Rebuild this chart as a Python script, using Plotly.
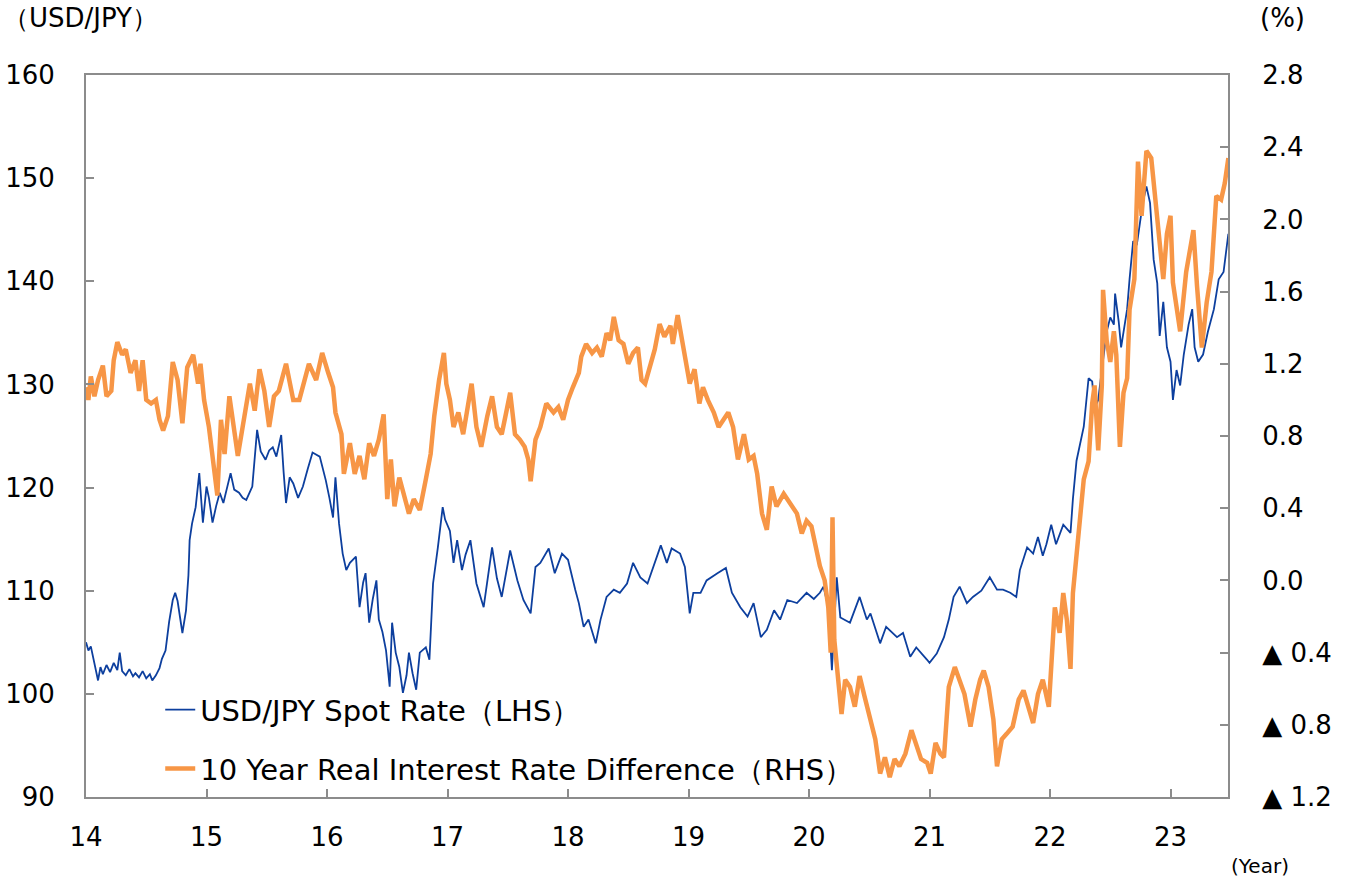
import plotly.graph_objects as go

# ---- USD/JPY spot rate (LHS), x in years (14 = 2014) ----
usd_t = [
    14.00, 14.02, 14.04, 14.06, 14.08, 14.10, 14.12, 14.14, 14.17, 14.20,
    14.23, 14.26, 14.28, 14.30, 14.33, 14.36, 14.39, 14.41, 14.44, 14.47,
    14.50, 14.53, 14.55, 14.58, 14.61, 14.63, 14.66, 14.69, 14.72, 14.74,
    14.76, 14.78, 14.80, 14.83, 14.85, 14.86, 14.88, 14.91, 14.94, 14.97,
    15.00, 15.02, 15.05, 15.08, 15.11, 15.14, 15.17, 15.20, 15.23, 15.27,
    15.30, 15.33, 15.38, 15.40, 15.42, 15.45, 15.49, 15.52, 15.55, 15.58,
    15.62, 15.64, 15.66, 15.69, 15.72, 15.76, 15.80, 15.84, 15.88, 15.94,
    15.99,
    16.02, 16.05, 16.07, 16.10, 16.13, 16.16, 16.19, 16.24, 16.27, 16.30,
    16.32, 16.35, 16.38, 16.41, 16.43, 16.46, 16.49, 16.52, 16.54, 16.57,
    16.60, 16.63, 16.66, 16.68, 16.71, 16.74, 16.77, 16.82, 16.85, 16.88,
    16.92, 16.96, 16.98,
    17.02, 17.05, 17.08, 17.12, 17.15, 17.19, 17.24, 17.30, 17.37, 17.41,
    17.45, 17.52, 17.58, 17.63, 17.69, 17.73, 17.77, 17.84, 17.89, 17.95,
    18.00, 18.06, 18.09, 18.13, 18.17, 18.23, 18.27, 18.32, 18.38, 18.43,
    18.49, 18.54, 18.60, 18.66, 18.71, 18.77, 18.82, 18.86, 18.93, 18.97,
    19.01, 19.04, 19.10, 19.15, 19.24, 19.31, 19.36, 19.43, 19.49, 19.54,
    19.60, 19.65, 19.71, 19.76, 19.82, 19.90, 19.98,
    20.04, 20.09, 20.12, 20.16, 20.19, 20.23, 20.26, 20.34, 20.42, 20.48,
    20.51, 20.59, 20.64, 20.73, 20.78, 20.84, 20.89, 20.98,
    21.00, 21.06, 21.12, 21.16, 21.20, 21.25, 21.31, 21.36, 21.43, 21.50,
    21.56, 21.61, 21.67, 21.72, 21.75, 21.81, 21.86, 21.90, 21.94, 21.97,
    22.01, 22.05, 22.11, 22.17, 22.19, 22.22, 22.25, 22.28, 22.32, 22.35,
    22.37, 22.40, 22.43, 22.47, 22.50, 22.53, 22.54, 22.57, 22.59, 22.64,
    22.66, 22.69, 22.72, 22.75, 22.77, 22.80, 22.83, 22.86, 22.89, 22.91,
    22.94, 22.97,
    23.00, 23.02, 23.05, 23.08, 23.11, 23.15, 23.18, 23.20, 23.23, 23.27,
    23.31, 23.36, 23.40, 23.44, 23.48,
]
usd_v = [
    105.0, 104.2, 104.6, 103.5, 102.2, 101.3, 102.6, 101.9, 102.8, 102.1,
    103.0, 102.3, 104.0, 102.2, 101.8, 102.4, 101.7, 102.0, 101.6, 102.2,
    101.5, 101.9, 101.3, 101.8, 102.5, 103.4, 104.2, 107.0, 109.1, 109.8,
    109.0, 107.5, 105.9, 108.1, 111.5, 114.9, 116.5, 118.1, 121.4, 116.6,
    120.1, 119.0, 116.6, 118.2, 119.5, 118.5, 120.0, 121.4, 119.8, 119.5,
    119.0, 118.8, 120.1, 122.5, 125.6, 123.5, 122.7, 123.6, 123.9, 123.0,
    125.1, 121.5, 118.5, 121.0, 120.4, 119.0, 120.1, 121.8, 123.4, 123.0,
    120.7,
    119.0, 117.1, 121.0, 116.5, 113.6, 112.0, 112.7, 113.3, 108.4, 110.8,
    111.7, 106.9, 109.2, 111.0, 107.2, 106.0, 104.2, 100.7, 106.9, 104.0,
    102.6, 100.1, 101.8, 104.0, 102.0, 100.4, 104.0, 104.5, 103.3, 110.7,
    114.2, 118.1, 116.9,
    115.8, 112.7, 114.9, 112.0, 113.5, 114.9, 110.7, 108.4, 114.2, 111.2,
    109.4, 113.9, 111.0, 109.1, 107.8, 112.3, 112.7, 114.1, 111.7, 113.6,
    113.0, 110.1, 108.8, 106.5, 107.2, 104.9, 107.2, 109.4, 110.1, 109.8,
    110.7, 112.7, 111.3, 110.7, 112.3, 114.4, 112.7, 114.1, 113.6, 112.3,
    107.8, 109.8, 109.8, 111.0, 111.7, 112.2, 109.8, 108.4, 107.5, 108.8,
    105.5, 106.2, 108.1, 107.2, 109.1, 108.8, 109.8,
    109.2, 109.8, 110.4, 108.4, 102.3, 111.3, 107.4, 106.9, 109.4, 107.2,
    107.8, 104.9, 106.5, 105.5, 105.9, 103.6, 104.5, 103.3,
    103.0, 103.9, 105.5, 107.2, 109.4, 110.4, 108.8, 109.4, 110.0, 111.3,
    110.1, 110.1, 109.8, 109.4, 112.0, 114.2, 113.6, 115.2, 113.4, 114.5,
    116.4, 114.5, 116.4, 115.6, 118.9, 122.6, 124.1, 125.9, 130.6, 130.3,
    127.7, 128.5, 131.4, 135.1, 136.5, 135.8, 138.8, 136.1, 133.6, 137.3,
    140.2, 143.9, 143.5, 146.1, 147.6, 149.2, 147.6, 142.1, 139.8, 134.7,
    138.0, 133.6,
    132.2, 128.5, 131.4, 129.9, 132.9, 135.8, 137.3, 133.6, 132.2, 132.9,
    135.1, 137.3, 140.2, 140.9, 144.6,
]

# ---- 10Y real interest rate difference (RHS, %) ----
rate_t = [
    14.00, 14.02, 14.04, 14.07, 14.10, 14.14, 14.17, 14.21, 14.23, 14.26,
    14.30, 14.33, 14.37, 14.41, 14.44, 14.47, 14.50, 14.54, 14.58, 14.61,
    14.64, 14.68, 14.72, 14.76, 14.80, 14.84, 14.89, 14.93, 14.95, 14.98,
    15.02, 15.05, 15.09, 15.12, 15.15, 15.19, 15.22, 15.26, 15.30, 15.36,
    15.40, 15.44, 15.48, 15.52, 15.56, 15.60, 15.66, 15.72, 15.77, 15.81,
    15.85, 15.91, 15.96,
    16.01, 16.05, 16.07, 16.12, 16.14, 16.19, 16.23, 16.27, 16.31, 16.35,
    16.39, 16.43, 16.47, 16.50, 16.53, 16.56, 16.60, 16.64, 16.68, 16.72,
    16.77, 16.82, 16.86, 16.89, 16.93, 16.97, 16.99,
    17.02, 17.05, 17.09, 17.13, 17.16, 17.20, 17.24, 17.28, 17.33, 17.37,
    17.41, 17.45, 17.49, 17.52, 17.56, 17.60, 17.64, 17.67, 17.69, 17.73,
    17.77, 17.82, 17.88, 17.92, 17.96,
    18.00, 18.04, 18.09, 18.11, 18.15, 18.20, 18.24, 18.28, 18.32, 18.35,
    18.38, 18.42, 18.46, 18.50, 18.54, 18.58, 18.61, 18.64, 18.68, 18.72,
    18.76, 18.80, 18.85, 18.87, 18.91, 18.94, 18.98,
    19.01, 19.05, 19.09, 19.12, 19.16, 19.21, 19.25, 19.29, 19.33, 19.37,
    19.41, 19.46, 19.50, 19.54, 19.57, 19.61, 19.65, 19.69, 19.73, 19.79,
    19.84, 19.90, 19.94, 19.98,
    20.02, 20.05, 20.09, 20.13, 20.16, 20.18, 20.195, 20.21, 20.24, 20.27,
    20.30, 20.34, 20.38, 20.42, 20.46, 20.51, 20.55, 20.59, 20.63, 20.67,
    20.71, 20.75, 20.80, 20.85, 20.89, 20.93, 20.98,
    21.01, 21.05, 21.09, 21.12, 21.16, 21.21, 21.25, 21.29, 21.34, 21.38,
    21.42, 21.45, 21.49, 21.53, 21.56, 21.60, 21.64, 21.69, 21.74, 21.78,
    21.82, 21.86, 21.90, 21.94, 21.99,
    22.01, 22.04, 22.08, 22.11, 22.14, 22.17, 22.19, 22.22, 22.25, 22.28,
    22.32, 22.35, 22.37, 22.40, 22.43, 22.44, 22.47, 22.50, 22.53, 22.55,
    22.58, 22.61, 22.64, 22.66, 22.70, 22.73, 22.76, 22.80, 22.84, 22.87,
    22.90, 22.94, 22.97,
    23.00, 23.02, 23.05, 23.08, 23.13, 23.19, 23.22, 23.26, 23.30, 23.34,
    23.38, 23.42, 23.45, 23.48,
]
rate_v = [
    1.07, 1.00, 1.13, 1.02, 1.11, 1.19, 1.02, 1.05, 1.22, 1.32,
    1.25, 1.28, 1.15, 1.22, 1.05, 1.22, 1.00, 0.98, 1.00, 0.89,
    0.83, 0.91, 1.21, 1.11, 0.87, 1.18, 1.25, 1.09, 1.20, 1.00,
    0.85, 0.70, 0.47, 0.89, 0.70, 1.02, 0.87, 0.69, 0.85, 1.09,
    0.94, 1.17, 1.05, 0.85, 1.02, 1.05, 1.20, 1.00, 1.00, 1.09,
    1.20, 1.11, 1.26,
    1.15, 1.07, 0.93, 0.81, 0.59, 0.76, 0.59, 0.69, 0.56, 0.76,
    0.69, 0.78, 0.92, 0.45, 0.67, 0.41, 0.57, 0.48, 0.37, 0.45,
    0.39, 0.56, 0.70, 0.91, 1.11, 1.26, 1.09,
    1.00, 0.85, 0.93, 0.81, 0.93, 1.09, 0.85, 0.74, 0.91, 1.02,
    0.85, 0.81, 0.94, 1.04, 0.81, 0.78, 0.74, 0.67, 0.55, 0.78,
    0.85, 0.98, 0.93, 0.96, 0.89,
    1.00, 1.07, 1.15, 1.24, 1.31, 1.26, 1.29, 1.24, 1.37, 1.33,
    1.46, 1.33, 1.31, 1.20, 1.26, 1.29, 1.11, 1.09, 1.18, 1.28,
    1.42, 1.35, 1.41, 1.31, 1.47, 1.35, 1.22,
    1.09, 1.17, 0.98, 1.07, 1.00, 0.93, 0.85, 0.89, 0.93, 0.85,
    0.67, 0.81, 0.67, 0.69, 0.59, 0.37, 0.28, 0.52, 0.41, 0.48,
    0.43, 0.37, 0.26, 0.33,
    0.30, 0.21, 0.08, 0.00, -0.15, -0.40, 0.35, -0.33, -0.55, -0.74,
    -0.55, -0.59, -0.70, -0.53, -0.64, -0.77, -0.88, -1.07, -0.98, -1.09,
    -0.99, -1.03, -0.96, -0.83, -0.92, -0.99, -1.01,
    -1.07, -0.90, -0.96, -0.98, -0.59, -0.48, -0.55, -0.63, -0.81, -0.66,
    -0.55, -0.50, -0.59, -0.77, -1.03, -0.88, -0.85, -0.81, -0.66, -0.61,
    -0.70, -0.79, -0.63, -0.55, -0.70,
    -0.48, -0.15, -0.29, -0.07, -0.22, -0.49, -0.07, 0.13, 0.34, 0.56,
    0.66, 0.98, 1.08, 0.72, 1.08, 1.61, 1.33, 1.21, 1.38, 1.25,
    0.74, 1.04, 1.12, 1.50, 1.67, 2.32, 2.02, 2.38, 2.34, 2.13,
    1.96, 1.67, 1.92,
    2.02, 1.65, 1.50, 1.38, 1.71, 1.94, 1.63, 1.29, 1.54, 1.71,
    2.13, 2.11, 2.20, 2.34,
]

assert len(usd_t) == len(usd_v), (len(usd_t), len(usd_v))
assert len(rate_t) == len(rate_v), (len(rate_t), len(rate_v))

# ---- axis ticks ----
year_ticks = [14, 15, 16, 17, 18, 19, 20, 21, 22, 23]
year_labels = ["14", "15", "16", "17", "18", "19", "20", "21", "22", "23"]
left_ticks = [90, 100, 110, 120, 130, 140, 150, 160]
right_ticks = [-1.2, -0.8, -0.4, 0.0, 0.4, 0.8, 1.2, 1.6, 2.0, 2.4, 2.8]
right_labels = ["▲ 1.2", "▲ 0.8", "▲ 0.4", "0.0", "0.4", "0.8", "1.2",
                "1.6", "2.0", "2.4", "2.8"]

AXIS = "#8c8c8c"
FONT = "DejaVu Sans"

fig = go.Figure()
fig.add_trace(go.Scatter(
    x=rate_t, y=rate_v, yaxis="y2", mode="lines",
    name="10 Year Real Interest Rate Difference（RHS）",
    legendgroup="rate", legendrank=2,
    line=dict(color="#F79646", width=4.5),
))
fig.add_trace(go.Scatter(
    x=usd_t, y=usd_v, mode="lines",
    name="USD/JPY Spot Rate（LHS）",
    legendgroup="usd", legendrank=1,
    line=dict(color="#0D3F9E", width=1.8),
))

axis_common = dict(
    showgrid=False, zeroline=False, showline=True, linecolor=AXIS,
    linewidth=2, ticks="inside", ticklen=8, tickwidth=1.5, tickcolor=AXIS,
    tickfont=dict(size=26, color="black", family=FONT), automargin=False,
)

fig.update_layout(
    width=1347, height=880,
    margin=dict(l=86, r=119, t=75, b=83, autoexpand=False),
    paper_bgcolor="white", plot_bgcolor="white",
    font=dict(family=FONT, size=26, color="black"),
    xaxis=dict(range=[14, 23.477], tickvals=year_ticks, ticktext=year_labels,
               mirror=True, ticklabelstandoff=16, **axis_common),
    yaxis=dict(range=[90, 160], tickvals=left_ticks, ticklabelstandoff=24,
               **axis_common),
    yaxis2=dict(range=[-1.2, 2.8], tickvals=right_ticks, ticktext=right_labels,
                overlaying="y", side="right", ticklabelstandoff=27,
                **axis_common),
    legend=dict(x=0.065, y=0.156, xanchor="left", yanchor="top",
                bgcolor="rgba(0,0,0,0)", font=dict(size=29, family=FONT),
                traceorder="grouped", tracegroupgap=18),
    showlegend=True,
)

fig.add_annotation(text="（USD/JPY）", xref="paper", yref="paper",
                   x=-0.074, y=1.079, xanchor="left", yanchor="middle",
                   showarrow=False, font=dict(size=26, family=FONT))
fig.add_annotation(text="(%)", xref="paper", yref="paper",
                   x=1.026, y=1.079, xanchor="left", yanchor="middle",
                   showarrow=False, font=dict(size=26, family=FONT))
fig.add_annotation(text="(Year)", xref="paper", yref="paper",
                   x=1.001, y=-0.0956, xanchor="left", yanchor="middle",
                   showarrow=False, font=dict(size=20, family=FONT))

fig.write_html(
    "out.html",
    config={"displayModeBar": False},
    post_script="document.body.style.margin='0';document.body.style.overflow='hidden';",
)
